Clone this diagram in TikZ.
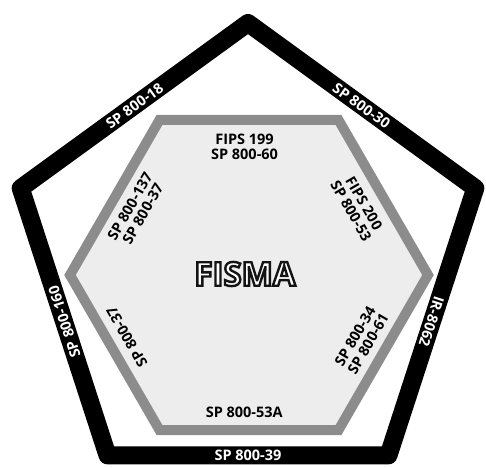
\documentclass[tikz,border=0pt]{standalone}
\usepackage{fontspec}
\setmainfont{Open Sans}
\usepackage{tikz}
\usetikzlibrary{calc,positioning}
\newcommand\hueco[1]{\special{pdf:literal direct 2 Tr 2.4 w 0.08 G}#1\special{pdf:literal direct 0 Tr}}
\tikzset{
  marco/.style={draw=black,line width=18pt,line join=round},
  hexa/.style={draw=black!45,fill=black!7,line width=10pt,line join=miter},
  etiq/.style={text=white,font=\bfseries\fontsize{14.5}{15}\selectfont,inner sep=0pt},
  rotulo/.style={font=\bfseries\fontsize{14.5}{15}\selectfont,align=center,inner sep=0pt}
}

\begin{document}
\begin{tikzpicture}[x=1pt,y=1pt]
\useasboundingbox (0,0) rectangle (486,467);
\coordinate (pc) at (248,205); \coordinate (hc) at (249,192);
\draw[marco] ($(pc)+(90:239)$) \foreach \a in {162,234,306,18}{ -- ($(pc)+(\a:239)$)} -- cycle;
\draw[hexa] ($(hc)+(0:179)$) \foreach \a in {60,120,...,300}{ -- ($(hc)+(\a:179)$)} -- cycle;
\foreach \a/\r/\t [count=\i] in {126/36/SP 800-18,54/-36/SP 800-30,-18/-108/IR-8062,-90/0/SP 800-39,198/108/SP 800-160}
  \node[etiq,rotate=\r] (anillo\i) at ($(pc)+(\a:193)$) {\t};
\node[rotulo] (arriba) at ($(hc)+(92:128)$) {FIPS 199\\SP 800-60};
\node[rotulo,rotate=-60] (dersup) at ($(hc)+(32:128)$) {FIPS 200\\SP 800-53};
\node[rotulo,rotate=60] (izqsup) at ($(hc)+(150:130)$) {SP 800-137\\SP 800-37};
\node[rotulo,rotate=120] (izqinf) at ($(hc)+(207:137)$) {SP 800-37};
\node[rotulo,rotate=60] (derinf) at ($(hc)+(330:130)$) {SP 800-34\\SP 800-61};
\node[rotulo] (abajo) at ($(hc)+(268:137)$) {SP 800-53A};
\node[font=\bfseries\fontsize{33}{36}\selectfont,text=white] (fisma) at (245,193) {\hueco{FISMA}};
\end{tikzpicture}
\end{document}
